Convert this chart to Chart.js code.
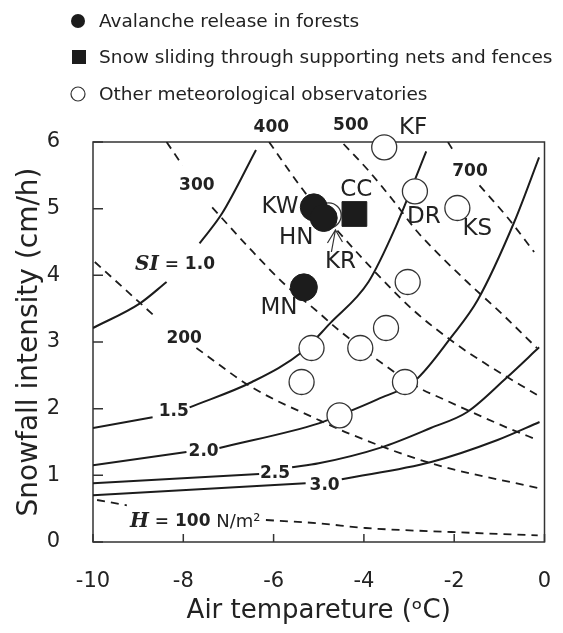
<!DOCTYPE html>
<html>
<head>
<meta charset="utf-8">
<script src="https://cdn.jsdelivr.net/npm/chart.js@4.4.1/dist/chart.umd.min.js"></script>
<style>
  html, body { margin: 0; padding: 0; background: #fff; }
  canvas { display: block; }
</style>
</head>
<body>
<canvas id="chart" width="563" height="633"></canvas>
<script>
// axis ticks
const tempTicks = [-10, -8, -6, -4, -2, 0];
const snowTicks = [0, 1, 2, 3, 4, 5, 6];

// SI isolines (solid). null = break where the label sits
const si10 = [[-10, 3.21], [-8.96, 3.58], [-8.37, 3.90], null, [-7.64, 4.48], [-7.14, 4.93], [-6.39, 5.88]];
const si15 = [[-10, 1.71], [-8.68, 1.87], null, [-7.86, 2.02], [-6.48, 2.40], [-5.37, 2.85], [-4.75, 3.28], [-3.9, 3.9], [-3.3, 4.72], [-2.62, 5.86]];
const si20 = [[-10, 1.15], [-7.93, 1.35], null, [-7.20, 1.41], [-5.0, 1.78], [-4.54, 1.90], [-3.7, 2.14], [-2.87, 2.42], [-2.07, 3.07], [-1.48, 3.63], [-0.67, 4.80], [-0.12, 5.77]];
const si25 = [[-10, 0.88], [-6.32, 1.02], null, [-5.59, 1.12], [-5.0, 1.18], [-3.61, 1.42], [-2.52, 1.71], [-1.71, 1.95], [-0.83, 2.47], [-0.12, 2.92]];
const si30 = [[-10, 0.70], [-5.29, 0.88], null, [-4.49, 0.94], [-2.51, 1.20], [-1.04, 1.53], [-0.11, 1.80]];

// H isolines (dashed), N/m2
const h100 = [[-9.91, 0.63], [-9.25, 0.55], null, [-6.17, 0.33], [-5.0, 0.28], [-3.96, 0.21], [-2.07, 0.15], [-0.15, 0.10]];
const h200 = [[-9.96, 4.20], [-8.59, 3.36], null, [-7.71, 2.91], [-6.48, 2.32], [-5.0, 1.83], [-4.34, 1.63], [-2.51, 1.18], [-0.15, 0.81]];
const h300 = [[-8.37, 6.0], [-8.02, 5.65], null, [-7.36, 5.02], [-6.54, 4.41], [-5.73, 3.85], [-5.07, 3.48], [-4.56, 3.18], [-3.39, 2.58], [-2.80, 2.32], [-2.20, 2.13], [-0.81, 1.71], [-0.15, 1.53]];
const h400 = [[-6.10, 6.0], [-5.29, 5.23], [-4.56, 4.65], [-3.68, 4.0], [-2.91, 3.48], [-1.98, 2.98], [-1.32, 2.68], [-0.15, 2.20]];
const h500 = [[-4.45, 5.97], [-3.91, 5.58], [-3.36, 5.13], [-2.81, 4.65], [-2.26, 4.26], [-1.71, 3.90], [-0.94, 3.42], [-0.17, 2.91]];
const h700 = [[-2.14, 6.0], [-2.03, 5.88], null, [-1.44, 5.35], [-0.81, 4.86], [-0.23, 4.35]];

// sites
const forestTemp = [-5.11, -4.89, -5.33];   // KW, HN, MN
const forestSnow = [5.02, 4.86, 3.82];
const netTemp = [-4.21];                     // CC
const netSnow = [4.92];
const obsTemp = [-4.78, -3.55, -2.87, -1.93, -3.03, -3.51, -4.08, -5.16, -5.38, -3.09, -4.54]; // KR, KF, DR, KS, others
const obsSnow = [4.90, 5.92, 5.26, 5.01, 3.90, 3.21, 2.91, 2.91, 2.40, 2.40, 1.90];

// text placed in data coords
const siteLabels = [['KW', -5.86, 5.02], ['HN', -5.50, 4.56], ['MN', -5.88, 3.51], ['CC', -4.17, 5.28],
  ['KR', -4.52, 4.20], ['KF', -2.91, 6.21], ['DR', -2.67, 4.87], ['KS', -1.49, 4.69]];
const curveLabels = [['200', -7.98, 3.05], ['300', -7.70, 5.35], ['400', -6.05, 6.22], ['500', -4.29, 6.24],
  ['700', -1.65, 5.56], ['1.5', -8.21, 1.96], ['2.0', -7.55, 1.36], ['2.5', -5.97, 1.03], ['3.0', -4.87, 0.84]];

const SANS = '"DejaVu Sans", sans-serif';
const SERIF = '"DejaVu Serif", serif';
const INK = '#1c1c1c';

const toXY = (xs, ys) => xs.map((v, i) => ({x: v, y: ys[i]}));

function isoline(pts, dashed) {
  return {
    data: pts.map((p, i) => p ? {x: p[0], y: p[1]} : {x: pts[i - 1][0], y: null}),
    showLine: true,
    pointRadius: 0,
    borderColor: INK,
    borderWidth: dashed ? 1.8 : 2,
    borderDash: dashed ? [8, 6] : [],
    cubicInterpolationMode: 'monotone',
    spanGaps: false,
    fill: false
  };
}

function richText(ctx, parts, x, y) {
  let cx = x;
  parts.forEach(([t, f]) => {
    ctx.font = f;
    ctx.fillText(t, cx, y);
    cx += ctx.measureText(t).width;
  });
}

const decor = {
  id: 'decor',
  beforeDatasetsDraw(chart) {
    const {ctx, chartArea: a, scales: {x, y}} = chart;
    ctx.save();
    ctx.strokeStyle = '#333';
    ctx.lineWidth = 1.5;
    ctx.strokeRect(a.left, a.top, a.right - a.left, a.bottom - a.top);
    ctx.beginPath();
    tempTicks.forEach(v => {
      const px = x.getPixelForValue(v);
      ctx.moveTo(px, a.bottom);
      ctx.lineTo(px, a.bottom - 8);
    });
    snowTicks.forEach(v => {
      const py = y.getPixelForValue(v);
      ctx.moveTo(a.left, py);
      ctx.lineTo(a.left + 10, py);
    });
    ctx.stroke();
    ctx.restore();
  },
  afterDatasetsDraw(chart) {
    const {ctx, scales: {x, y}} = chart;
    ctx.save();
    ctx.fillStyle = '#222';
    ctx.textBaseline = 'middle';
    ctx.textAlign = 'center';

    ctx.font = '23px ' + SANS;
    siteLabels.forEach(([t, tx, ty]) => ctx.fillText(t, x.getPixelForValue(tx), y.getPixelForValue(ty)));

    ctx.font = 'bold 17px ' + SANS;
    curveLabels.forEach(([t, tx, ty]) => ctx.fillText(t, x.getPixelForValue(tx), y.getPixelForValue(ty)));

    ctx.textAlign = 'left';
    richText(ctx, [['SI', 'italic bold 20px ' + SERIF], [' = ', 'bold 17px ' + SERIF], ['1.0', 'bold 17px ' + SANS]],
      x.getPixelForValue(-9.07), y.getPixelForValue(4.155));
    richText(ctx, [['H', 'italic bold 20px ' + SERIF], [' = ', 'bold 17px ' + SERIF], ['100', 'bold 17px ' + SANS], [' N/m²', '18px ' + SANS]],
      x.getPixelForValue(-9.18), y.getPixelForValue(0.30));

    // KR arrow
    const tipX = x.getPixelForValue(-4.63), tipY = y.getPixelForValue(4.68);
    const tailX = x.getPixelForValue(-4.72), tailY = y.getPixelForValue(4.35);
    ctx.strokeStyle = '#333';
    ctx.lineWidth = 1.2;
    ctx.beginPath();
    ctx.moveTo(tailX, tailY);
    ctx.lineTo(tipX, tipY);
    ctx.moveTo(tipX - 8, tipY + 13);
    ctx.lineTo(tipX, tipY);
    ctx.lineTo(tipX + 7, tipY + 12);
    ctx.stroke();

    // legend
    const items = [
      ['dot', 'Avalanche release in forests', 21],
      ['square', 'Snow sliding through supporting nets and fences', 57],
      ['ring', 'Other meteorological observatories', 94]
    ];
    ctx.font = '18.5px ' + SANS;
    items.forEach(([kind, text, cy]) => {
      ctx.fillStyle = INK;
      ctx.strokeStyle = '#333';
      ctx.lineWidth = 1.2;
      if (kind === 'square') {
        ctx.fillRect(72, cy - 7, 14, 14);
      } else {
        ctx.beginPath();
        ctx.arc(78, cy, 7, 0, Math.PI * 2);
        if (kind === 'dot') ctx.fill();
        else ctx.stroke();
      }
      ctx.fillStyle = '#222';
      ctx.fillText(text, 99, cy + 1);
    });
    ctx.restore();
  }
};

new Chart(document.getElementById('chart'), {
  type: 'scatter',
  data: {
    datasets: [
      {data: toXY(forestTemp, forestSnow), pointStyle: 'circle', pointRadius: 13.5, backgroundColor: INK, borderColor: INK, borderWidth: 1, clip: false},
      {data: toXY(netTemp, netSnow), pointStyle: 'rect', pointRadius: 17.5, backgroundColor: INK, borderColor: INK, borderWidth: 1, clip: false},
      {data: toXY(obsTemp, obsSnow), pointStyle: 'circle', pointRadius: 12.5, backgroundColor: '#fff', borderColor: '#333', borderWidth: 1.3, clip: false},
      isoline(si10), isoline(si15), isoline(si20), isoline(si25), isoline(si30),
      isoline(h100, true), isoline(h200, true), isoline(h300, true), isoline(h400, true), isoline(h500, true), isoline(h700, true)
    ]
  },
  options: {
    responsive: false,
    animation: false,
    events: [],
    layout: {padding: {top: 142, right: 15, left: 0, bottom: 0}},
    plugins: {legend: {display: false}, tooltip: {enabled: false}},
    scales: {
      x: {
        type: 'linear', min: -10, max: 0,
        afterBuildTicks: s => { s.ticks = tempTicks.map(v => ({value: v})); },
        afterFit: s => { s.height = 91; },
        ticks: {color: '#222', font: {family: SANS, size: 21}, padding: 0},
        grid: {display: false, drawTicks: true, tickLength: 27},
        border: {display: false},
        title: {display: true, text: 'Air tempareture (ᵒC)', color: '#222', font: {family: SANS, size: 26}, padding: {top: 0, bottom: 6}}
      },
      y: {
        type: 'linear', min: 0, max: 6,
        afterBuildTicks: s => { s.ticks = snowTicks.map(v => ({value: v})); },
        afterFit: s => { s.width = 93; },
        ticks: {color: '#222', font: {family: SANS, size: 21}, padding: 0},
        grid: {display: false, drawTicks: true, tickLength: 33},
        border: {display: false},
        title: {display: true, text: 'Snowfall intensity (cm/h)', color: '#222', font: {family: SANS, size: 28}, padding: {top: 13, bottom: 0}}
      }
    }
  },
  plugins: [decor]
});
</script>
</body>
</html>
